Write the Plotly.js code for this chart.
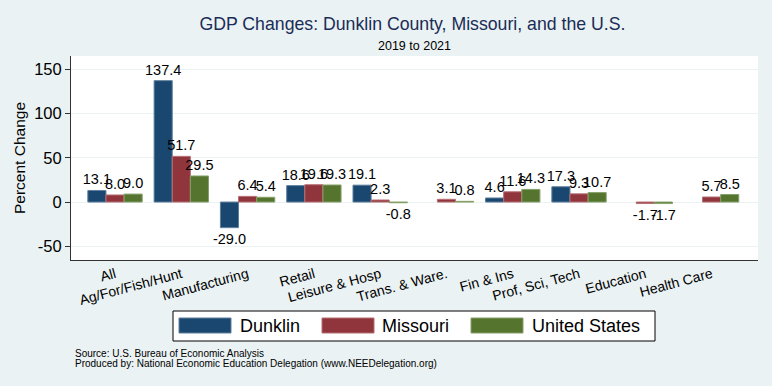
<!DOCTYPE html>
<html>
<head>
<meta charset="utf-8">
<script src="https://cdn.plot.ly/plotly-3.0.1.min.js"></script>
<style>html,body{margin:0;padding:0;background:#EAF2F3;}#chart{width:772px;height:386px;}</style>
</head>
<body>
<div id="chart"></div>
<script>
var categories = ["All", "Ag/For/Fish/Hunt", "Manufacturing", "Retail", "Leisure & Hosp",
  "Trans. & Ware.", "Fin & Ins", "Prof, Sci, Tech", "Education", "Health Care"];
var dunklin  = [13.1, 137.4, -29.0, 18.6, 19.1, null, 4.6, 17.3, null, null];
var missouri = [8.0, 51.7, 6.4, 19.6, 2.3, 3.1, 11.6, 9.3, -1.7, 5.7];
var usa      = [9.0, 29.5, 5.4, 19.3, -0.8, 0.8, 14.3, 10.7, -1.7, 8.5];
var seriesNames = ["Dunklin", "Missouri", "United States"];
var yTicks = [-50, 0, 50, 100, 150];
var sourceLines = ["Source: U.S. Bureau of Economic Analysis",
  "Produced by: National Economic Education Delegation (www.NEEDelegation.org)"];

var FONT = "Liberation Sans, Arial, Helvetica, sans-serif";
var colors = ["#1A476F", "#90353B", "#55752F"];
var edges  = ["#5f7f9c", "#b56f74", "#86a06a"];
var seriesData = [dunklin, missouri, usa];

// plot area in pixels
var PL = 71, PR = 758, PT = 56, PB = 260;
function px2x(px) { return (px - PL) / (PR - PL); }
function px2y(py) { return (PB - py) / (PB - PT); }

var traces = seriesData.map(function (vals, i) {
  return {
    type: "bar",
    name: seriesNames[i],
    x: categories,
    y: vals,
    marker: {color: colors[i], line: {color: edges[i], width: 1}},
    texttemplate: "%{y:.1f}",
    textposition: "outside",
    constraintext: "none",
    textangle: 0,
    cliponaxis: false,
    textfont: {family: FONT, size: 14.5, color: "#000"},
    hoverinfo: "none",
    showlegend: false
  };
});

// legend (drawn in the layout, below the plot)
var legendBox = {x0: 173, x1: 655, y0: 311, y1: 341};
var swatchX = [179, 322, 471];
var swatchW = 52;
var textX = [238, 380, 530];
var shapes = [{
  type: "rect", xref: "paper", yref: "paper",
  x0: px2x(legendBox.x0), x1: px2x(legendBox.x1), y0: px2y(legendBox.y1), y1: px2y(legendBox.y0),
  fillcolor: "#FFFFFF", line: {color: "#000", width: 1}, layer: "above"
}];
var annotations = [];
seriesNames.forEach(function (nm, i) {
  shapes.push({
    type: "rect", xref: "paper", yref: "paper",
    x0: px2x(swatchX[i]), x1: px2x(swatchX[i] + swatchW), y0: px2y(333), y1: px2y(318),
    fillcolor: colors[i], line: {color: edges[i], width: 1}, layer: "above"
  });
  annotations.push({
    text: nm, xref: "paper", yref: "paper", x: px2x(textX[i]), y: px2y(326),
    xanchor: "left", yanchor: "middle", showarrow: false,
    font: {family: FONT, size: 18, color: "#000"}
  });
});
annotations.push({
  text: "2019 to 2021",
  xref: "paper", yref: "paper", x: 0.5, y: 1, xanchor: "center", yanchor: "middle",
  yshift: 10, showarrow: false,
  font: {family: FONT, size: 12.5, color: "#000"}
});
sourceLines.forEach(function (t, i) {
  annotations.push({
    text: t, xref: "paper", yref: "paper", x: px2x(73), y: px2y(353 + i * 10.5),
    xanchor: "left", yanchor: "middle", align: "left", showarrow: false,
    font: {family: FONT, size: 10, color: "#000"}
  });
});

var layout = {
  width: 772, height: 386,
  paper_bgcolor: "#EAF2F3",
  plot_bgcolor: "#FFFFFF",
  margin: {l: PL, r: 772 - PR, t: PT, b: 386 - PB},
  font: {family: FONT, color: "#000"},
  barmode: "group",
  bargap: 0.18,
  bargroupgap: 0,
  showlegend: false,
  title: {
    text: "GDP Changes: Dunklin County, Missouri, and the U.S.",
    font: {family: FONT, size: 17.7, color: "#1a2c57"},
    x: 0.497, xanchor: "center", xref: "paper",
    y: 1 - 24 / 386, yanchor: "middle", yref: "container"
  },
  xaxis: {
    type: "category",
    range: [-0.664, 9.70],
    tickangle: -15,
    tickfont: {family: FONT, size: 14, color: "#000"},
    showgrid: false,
    showline: true, linecolor: "#333", linewidth: 1,
    ticks: "", ticklen: 0,
    automargin: false
  },
  yaxis: {
    range: [-65.6, 165.3],
    tickvals: yTicks,
    ticktext: yTicks.map(String),
    tickfont: {family: FONT, size: 16.5, color: "#000"},
    ticks: "outside", ticklen: 5, tickcolor: "#333",
    showline: true, linecolor: "#333", linewidth: 1,
    showgrid: true, gridcolor: "#EAF2F3", gridwidth: 1,
    zeroline: false,
    automargin: false,
    title: {text: "Percent Change", font: {family: FONT, size: 15.5, color: "#000"}, standoff: 4}
  },
  shapes: shapes,
  annotations: annotations
};

Plotly.newPlot("chart", traces, layout, {displayModeBar: false, staticPlot: true});
</script>
</body>
</html>
